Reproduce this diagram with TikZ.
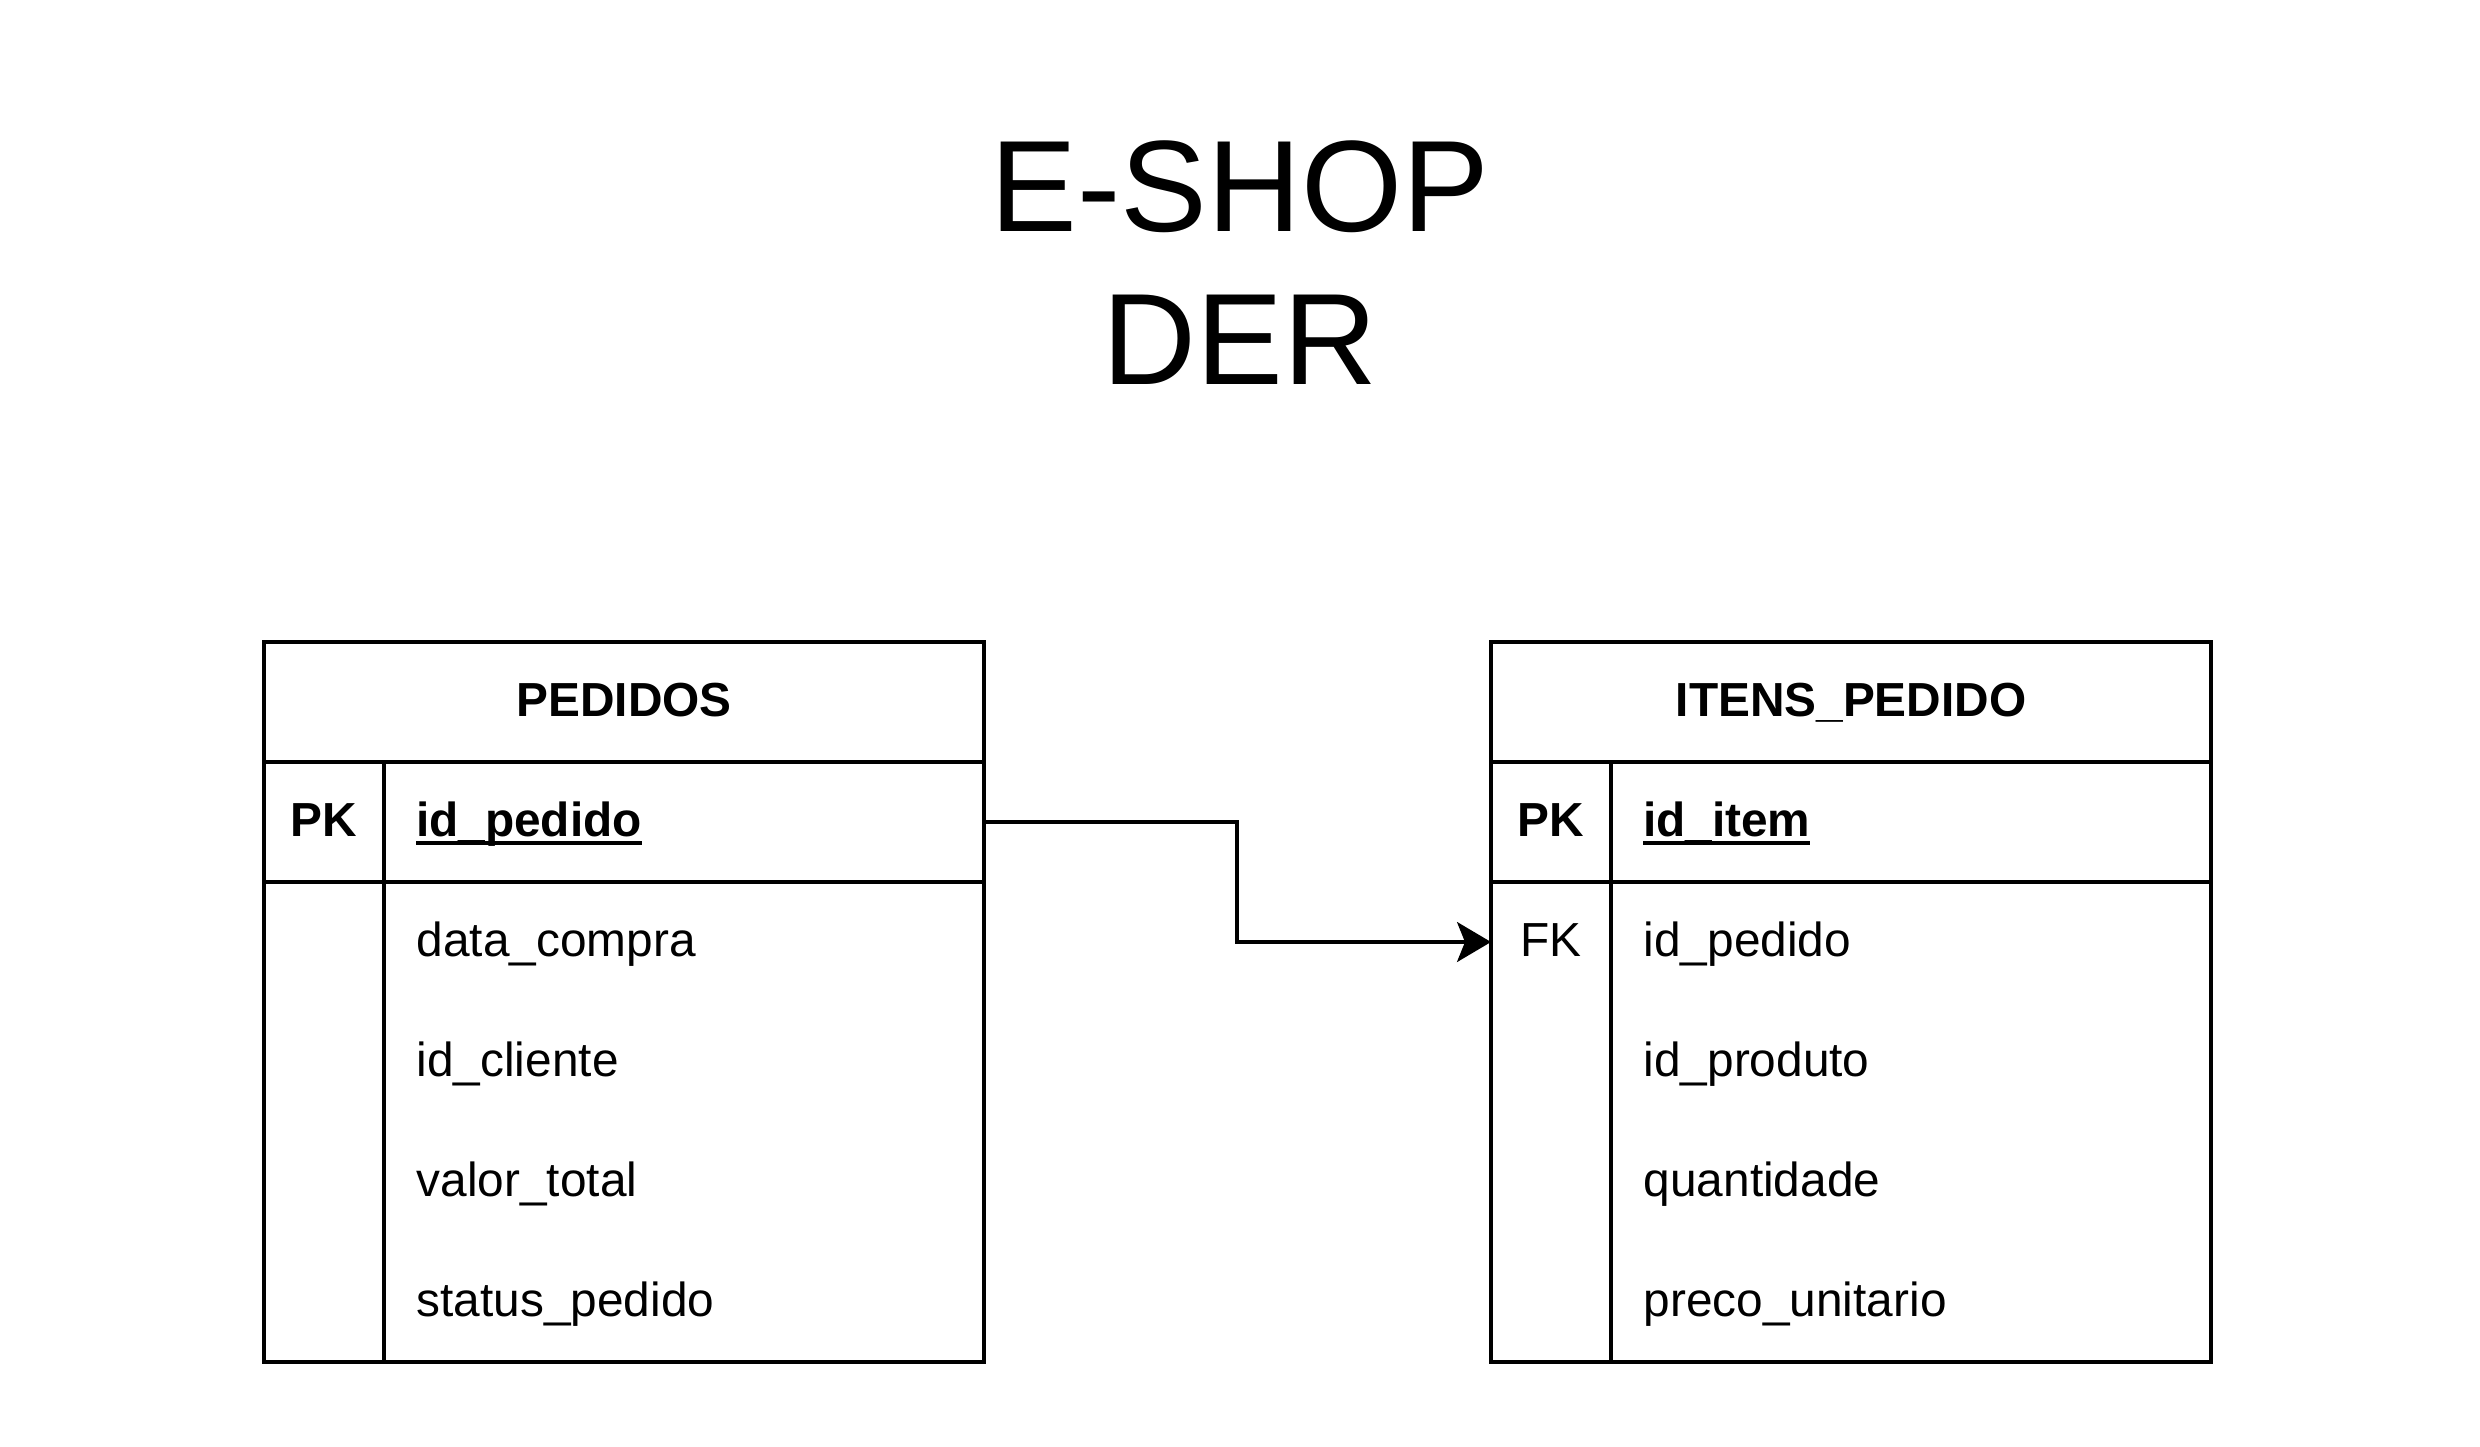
\documentclass[tikz,border=0pt]{standalone}
\usepackage{fontspec}
\setmainfont{Liberation Sans}
\usetikzlibrary{positioning, arrows.meta}
% underline through the descenders, as the drawing tool does
\newcommand{\keyname}[1]{\setbox0\hbox{#1}\rlap{\rule[-0.16em]{\wd0}{0.07em}}\box0}

\begin{document}
\begin{tikzpicture}[
  font=\fontsize{13.6}{16}\selectfont,
  >={Stealth[length=3.4mm, width=4mm, inset=0.8mm]},
  cell/.style={draw, line width=0.9pt, outer sep=0pt, text height=1.9ex, text depth=0.3ex},
  thead/.style={cell, minimum width=7.2cm, minimum height=1.2cm,
                font=\fontsize{13.6}{16}\selectfont\bfseries},
  kcell/.style={cell, minimum width=1.2cm, minimum height=1.2cm},
  ncell/.style={cell, minimum width=6cm, minimum height=1.2cm,
                text width=5.36cm, inner xsep=0.32cm, align=left},
  kcol/.style={cell, minimum width=1.2cm, minimum height=4.8cm},
  ncol/.style={cell, minimum width=6cm, minimum height=4.8cm},
  klbl/.style={minimum width=1.2cm, minimum height=1.2cm, outer sep=0pt,
               text height=1.9ex, text depth=0.3ex},
  fld/.style={anchor=west, inner xsep=0pt, text height=1.9ex, text depth=0.3ex},
  arr/.style={->, line width=0.9pt},
]
\useasboundingbox (0,0) rectangle (24.8,-14.46);
% ---- title ----
\node[align=center, font=\fontsize{37}{43.5}\selectfont] (ttl) at (12.4,-2.63) {E-SHOP\\DER};
% ---- PEDIDOS ----
\node[thead] (ped) at (6.24,-7.02) {PEDIDOS};
\node[kcell, anchor=north west] (ped-k) at (ped.south west) {\bfseries PK};
\node[ncell, anchor=north west] (ped-n) at (ped-k.north east) {\keyname{\bfseries id\_pedido}};
\node[kcol, anchor=north west] (ped-kb) at (ped-k.south west) {};
\node[ncol, anchor=north west] (ped-nb) at (ped-kb.north east) {};
\foreach \f [count=\i] in {data\_compra, id\_cliente, valor\_total, status\_pedido}
  \node[fld] (ped-f\i) at ([xshift=0.32cm, yshift={0.6cm-1.2cm*\i}]ped-nb.north west) {\f};
% ---- ITENS_PEDIDO ----
\node[thead] (itp) at (18.51,-7.02) {ITENS\_PEDIDO};
\node[kcell, anchor=north west] (itp-k) at (itp.south west) {\bfseries PK};
\node[ncell, anchor=north west] (itp-n) at (itp-k.north east) {\keyname{\bfseries id\_item}};
\node[kcol, anchor=north west] (itp-kb) at (itp-k.south west) {};
\node[ncol, anchor=north west] (itp-nb) at (itp-kb.north east) {};
\node[klbl, anchor=north west] (itp-fk) at (itp-kb.north west) {FK};
\foreach \f [count=\i] in {id\_pedido, id\_produto, quantidade, preco\_unitario}
  \node[fld] (itp-f\i) at ([xshift=0.32cm, yshift={0.6cm-1.2cm*\i}]itp-nb.north west) {\f};
% ---- relation ----
\draw[arr] (ped-n.east) -- ++(2.53,0) |- (itp-fk.west);
\end{tikzpicture}
\end{document}
